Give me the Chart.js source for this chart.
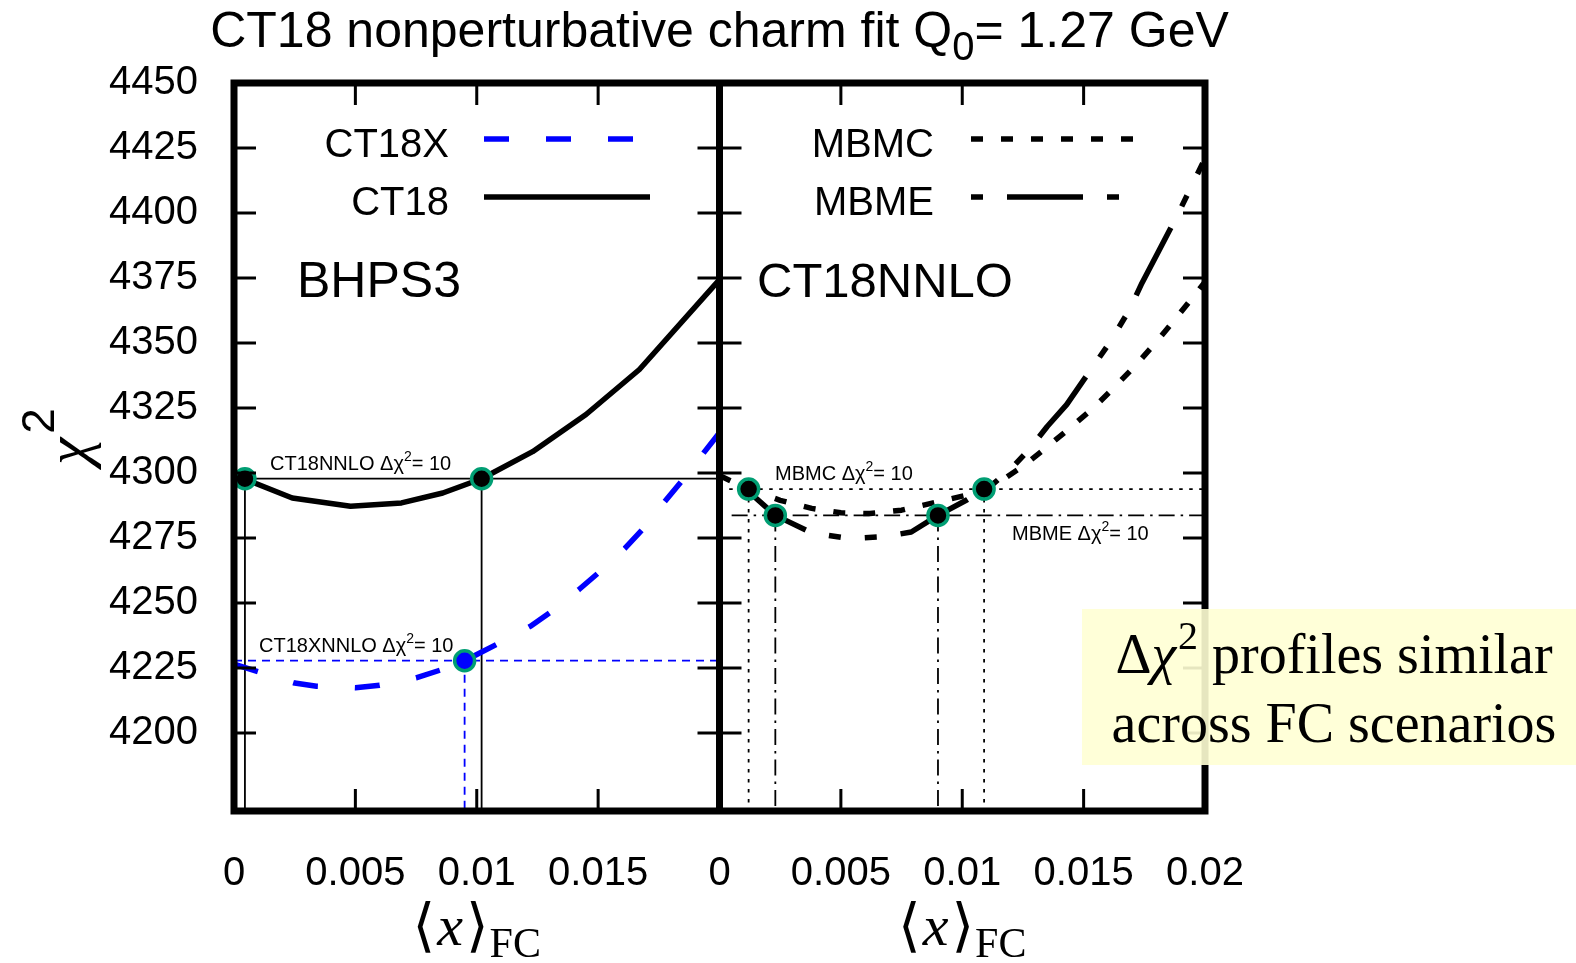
<!DOCTYPE html>
<html>
<head>
<meta charset="utf-8">
<title>CT18 nonperturbative charm fit</title>
<script src="https://cdn.jsdelivr.net/npm/chart.js@4.4.1/dist/chart.umd.min.js"></script>
<style>
    html, body { margin: 0; padding: 0; background: #fff; }
    canvas { display: block; }
</style>
</head>
<body>
<canvas id="chi2Chart" width="1576" height="963"></canvas>
<script>
/* ========================================
   CT18 nonperturbative charm fit - chi2 profiles
   ======================================== */

// ---------- axes ----------
// both panels share one x scale; the right panel is shifted by PANEL_SHIFT
const PANEL_SHIFT = 0.02;
const X_MIN = 0, X_MAX = 0.04;
const Y_MIN = 4170, Y_MAX = 4450;
const X_TICKS = [0, 0.005, 0.01, 0.015, 0.02, 0.025, 0.03, 0.035, 0.04];
const X_TICK_LABELS = ['0', '0.005', '0.01', '0.015', '0', '0.005', '0.01', '0.015', '0.02'];
const Y_TICKS = [4200, 4225, 4250, 4275, 4300, 4325, 4350, 4375, 4400, 4425, 4450];

// ---------- left panel (BHPS3) ----------
const CT18_X    = [0, 0.0024, 0.0048, 0.0069, 0.0086, 0.0102, 0.0123, 0.0145, 0.0167, 0.02];
const CT18_CHI2 = [4299.3, 4290.4, 4287.2, 4288.5, 4292.3, 4297.8, 4308.2, 4322.5, 4339.8, 4374.4];

const CT18X_X    = [0, 0.0025, 0.0034, 0.005, 0.006, 0.0075, 0.0085, 0.0095, 0.0108, 0.0122,
                    0.013, 0.0142, 0.015, 0.0161, 0.0168, 0.0177, 0.0185, 0.0193, 0.02];
const CT18X_CHI2 = [4226.5, 4219.2, 4218.0, 4217.4, 4218.4, 4221.2, 4224.2, 4227.8, 4234.0, 4241.0,
                    4246.2, 4255.1, 4261.5, 4271.0, 4278.0, 4288.5, 4297.5, 4307.2, 4315.5];

// ---------- right panel (CT18NNLO) ----------
const MBMC_X    = [0, 0.0012, 0.0025, 0.0038, 0.005, 0.0062, 0.0075, 0.0089, 0.0101, 0.0109,
                   0.0117, 0.0125, 0.0134, 0.0144, 0.0154, 0.0163, 0.0172, 0.018, 0.0188, 0.0196, 0.02];
const MBMC_CHI2 = [4299.0, 4293.8, 4289.5, 4286.4, 4284.7, 4284.4, 4285.7, 4288.7, 4291.3, 4293.8,
                   4297.6, 4302.6, 4309.3, 4317.0, 4325.0, 4333.3, 4342.0, 4350.5, 4359.5, 4368.8, 4373.5];

const MBME_X    = [0.001, 0.0023, 0.0038, 0.005, 0.0058, 0.0068, 0.0079, 0.009, 0.0102, 0.0113, 0.0121,
                   0.0128, 0.0135, 0.0143, 0.0153, 0.0161, 0.0169, 0.0174, 0.0181, 0.0188, 0.0194, 0.02];
const MBME_CHI2 = [4294.5, 4283.7, 4277.0, 4275.3, 4275.0, 4275.5, 4277.3, 4283.7, 4289.7, 4296.0, 4302.5,
                   4309.5, 4317.9, 4326.3, 4339.8, 4350.5, 4363.0, 4373.0, 4385.5, 4398.0, 4409.4, 4421.0];

// ---------- delta chi2 = 10 levels and crossings ----------
const CT18_LEVEL = 4297.8,  CT18_CROSS = [0.00045, 0.0102],  CT18_HSTART = 0.00045;
const CT18X_LEVEL = 4227.8, CT18X_CROSS = [0.0095],          CT18X_HSTART = 0;
const MBMC_LEVEL = 4293.8,  MBMC_CROSS = [0.0012, 0.0109],   MBMC_HSTART = 0.0004;
const MBME_LEVEL = 4283.7,  MBME_CROSS = [0.0023, 0.009],    MBME_HSTART = 0.0005;

// ---------- styles ----------
const SANS = "'Liberation Sans', Arial, Helvetica, sans-serif";
const SERIF = "'Liberation Serif', 'DejaVu Serif', 'DejaVu Sans', serif";
const BLUE = '#0000ff';
const TEAL = '#009e73';
const DASH_CT18X = [25, 37];
const DASH_MBMC = [12, 18];
const DASH_MBME = [12, 24, 76, 24, 12, 24];

const pts = (xs, ys, dx = 0) => xs.map((x, i) => ({ x: x + dx, y: ys[i] }));

function curve(xs, ys, dx, color, dash, dashOffset = 0) {
    return {
        data: pts(xs, ys, dx),
        borderColor: color,
        borderWidth: 5.5,
        borderDash: dash,
        borderDashOffset: dashOffset,
        borderCapStyle: 'butt',
        borderJoinStyle: 'round',
        pointRadius: 0,
        tension: 0,
        fill: false,
        order: 2,
    };
}

function guide(points, color, dash) {
    return {
        data: points,
        borderColor: color,
        borderWidth: 1.8,
        borderDash: dash,
        pointRadius: 0,
        tension: 0,
        fill: false,
        order: 3,
    };
}

// horizontal line to the panel edge plus a vertical line per crossing
function guides(level, cross, hStart, dx, color, dash) {
    const list = [guide([{ x: hStart + dx, y: level }, { x: PANEL_SHIFT + dx, y: level }], color, dash)];
    cross.forEach(c => {
        list.push(guide([{ x: c + dx, y: level }, { x: c + dx, y: Y_MIN }], color, dash));
    });
    return list;
}

function markers(cross, level, dx, inner) {
    return {
        data: cross.map(c => ({ x: c + dx, y: level })),
        showLine: false,
        pointRadius: 10,
        pointBorderWidth: 3.5,
        pointBackgroundColor: inner,
        pointBorderColor: TEAL,
        clip: false,
        order: 1,
    };
}

// ---------- text helpers ----------
function richWidth(ctx, parts) {
    let w = 0;
    parts.forEach(p => { ctx.font = p.font; w += ctx.measureText(p.text).width + (p.dx || 0); });
    return w;
}

function drawRich(ctx, parts, x, y) {
    let cx = x;
    parts.forEach(p => {
        ctx.font = p.font;
        cx += (p.dx || 0);
        ctx.fillText(p.text, cx, y + (p.dy || 0));
        cx += ctx.measureText(p.text).width;
    });
}

function deltaLabel(name) {
    return [
        { text: name + ' \u0394\u03c7', font: '20px ' + SANS },
        { text: '2', font: '14px ' + SANS, dy: -9 },
        { text: '= 10', font: '20px ' + SANS },
    ];
}

function legendSample(ctx, x0, x1, y, color, dash) {
    ctx.save();
    ctx.strokeStyle = color;
    ctx.lineWidth = 5.5;
    ctx.lineCap = 'butt';
    ctx.setLineDash(dash);
    ctx.beginPath();
    ctx.moveTo(x0, y);
    ctx.lineTo(x1, y);
    ctx.stroke();
    ctx.restore();
}

// ---------- frame, ticks and annotations ----------
const decorPlugin = {
    id: 'decor',
    afterDraw(chart) {
        const { ctx, chartArea: a, scales: { x, y } } = chart;
        const xm = x.getPixelForValue(PANEL_SHIFT);
        const TICK = 22;
        ctx.save();
        ctx.strokeStyle = '#000';
        ctx.fillStyle = '#000';
        ctx.setLineDash([]);

        // inward ticks
        ctx.lineWidth = 3;
        Y_TICKS.forEach(v => {
            const py = y.getPixelForValue(v);
            [[a.left, 1], [xm, -1], [xm, 1], [a.right, -1]].forEach(([px, dir]) => {
                ctx.beginPath();
                ctx.moveTo(px, py);
                ctx.lineTo(px + dir * TICK, py);
                ctx.stroke();
            });
        });
        X_TICKS.forEach(v => {
            if (v === X_MIN || v === PANEL_SHIFT || v === X_MAX) return;
            const px = x.getPixelForValue(v);
            ctx.beginPath();
            ctx.moveTo(px, a.top);
            ctx.lineTo(px, a.top + TICK);
            ctx.moveTo(px, a.bottom);
            ctx.lineTo(px, a.bottom - TICK);
            ctx.stroke();
        });

        // frame and panel divider
        ctx.lineWidth = 7;
        ctx.strokeRect(a.left, a.top, a.right - a.left, a.bottom - a.top);
        ctx.beginPath();
        ctx.moveTo(xm, a.top);
        ctx.lineTo(xm, a.bottom);
        ctx.stroke();

        // title
        ctx.textBaseline = 'alphabetic';
        ctx.textAlign = 'left';
        const title = [
            { text: 'CT18 nonperturbative charm fit Q', font: '50px ' + SANS },
            { text: '0', font: '40px ' + SANS, dy: 13 },
            { text: '= 1.27 GeV', font: '50px ' + SANS },
        ];
        drawRich(ctx, title, (a.left + a.right) / 2 - richWidth(ctx, title) / 2, 47);

        // y axis title
        ctx.save();
        ctx.translate(88, 465);
        ctx.rotate(-Math.PI / 2);
        drawRich(ctx, [
            { text: '\u03c7', font: 'italic 62px ' + SERIF },
            { text: '2', font: '46px ' + SANS, dy: -34, dx: 4 },
        ], 0, 0);
        ctx.restore();

        // x axis titles
        const xTitle = [
            { text: '\u27e8', font: '58px ' + SERIF },
            { text: 'x', font: 'italic 58px ' + SERIF, dx: 2 },
            { text: '\u27e9', font: '58px ' + SERIF, dx: 3 },
            { text: 'FC', font: '42px ' + SERIF, dy: 12, dx: 1 },
        ];
        const xtw = richWidth(ctx, xTitle);
        drawRich(ctx, xTitle, (a.left + xm) / 2 - xtw / 2, 945);
        drawRich(ctx, xTitle, (xm + a.right) / 2 - xtw / 2, 945);

        // legends
        ctx.font = '40px ' + SANS;
        ctx.textAlign = 'right';
        ctx.fillText('CT18X', 449, 157);
        ctx.fillText('CT18', 449, 215);
        ctx.fillText('MBMC', 934, 157);
        ctx.fillText('MBME', 934, 215);
        legendSample(ctx, 484, 634, 139, BLUE, DASH_CT18X);
        legendSample(ctx, 484, 650, 197, '#000', []);
        legendSample(ctx, 971, 1136, 139, '#000', DASH_MBMC);
        legendSample(ctx, 971, 1120, 197, '#000', DASH_MBME);

        // panel labels
        ctx.textAlign = 'left';
        ctx.font = '50px ' + SANS;
        ctx.fillText('BHPS3', 297, 297);
        ctx.font = '49px ' + SANS;
        ctx.fillText('CT18NNLO', 757, 297);

        // delta chi2 labels
        drawRich(ctx, deltaLabel('CT18NNLO'), 270, 470);
        drawRich(ctx, deltaLabel('CT18XNNLO'), 259, 652);
        drawRich(ctx, deltaLabel('MBMC'), 775, 480);
        drawRich(ctx, deltaLabel('MBME'), 1012, 540);

        // note box
        ctx.fillStyle = 'rgba(255, 255, 212, 0.9)';
        ctx.fillRect(1082, 609, 1576 - 1082, 156);
        ctx.fillStyle = '#000';
        const line1 = [
            { text: '\u0394', font: '56px ' + SERIF },
            { text: '\u03c7', font: 'italic 56px ' + SERIF },
            { text: '2', font: '40px ' + SERIF, dy: -24, dx: 2 },
            { text: ' profiles similar', font: '56px ' + SERIF },
        ];
        const line2 = [{ text: 'across FC scenarios', font: '56px ' + SERIF }];
        drawRich(ctx, line1, 1334 - richWidth(ctx, line1) / 2, 673);
        drawRich(ctx, line2, 1334 - richWidth(ctx, line2) / 2, 742);

        ctx.restore();
    }
};

// ---------- chart ----------
function initChi2Chart() {
    const ctx = document.getElementById('chi2Chart').getContext('2d');

    const datasets = [
        markers(CT18_CROSS, CT18_LEVEL, 0, '#000'),
        markers(CT18X_CROSS, CT18X_LEVEL, 0, BLUE),
        markers(MBMC_CROSS, MBMC_LEVEL, PANEL_SHIFT, '#000'),
        markers(MBME_CROSS, MBME_LEVEL, PANEL_SHIFT, '#000'),
        curve(CT18_X, CT18_CHI2, 0, '#000', []),
        curve(CT18X_X, CT18X_CHI2, 0, BLUE, DASH_CT18X),
        curve(MBMC_X, MBMC_CHI2, PANEL_SHIFT, '#000', DASH_MBMC),
        curve(MBME_X, MBME_CHI2, PANEL_SHIFT, '#000', DASH_MBME, 36),
        ...guides(CT18_LEVEL, CT18_CROSS, CT18_HSTART, 0, '#000', []),
        ...guides(CT18X_LEVEL, CT18X_CROSS, CT18X_HSTART, 0, BLUE, [8, 6]),
        ...guides(MBMC_LEVEL, MBMC_CROSS, MBMC_HSTART, PANEL_SHIFT, '#000', [3.5, 6.5]),
        ...guides(MBME_LEVEL, MBME_CROSS, MBME_HSTART, PANEL_SHIFT, '#000', [16, 6, 2.5, 6]),
    ];

    new Chart(ctx, {
        type: 'line',
        data: { datasets },
        options: {
            responsive: false,
            animation: false,
            events: [],
            layout: { padding: { top: 83, right: 371, bottom: 0, left: 0 } },
            plugins: {
                legend: { display: false },
                title: { display: false },
                tooltip: { enabled: false },
            },
            scales: {
                x: {
                    type: 'linear',
                    min: X_MIN,
                    max: X_MAX,
                    afterBuildTicks: s => { s.ticks = X_TICKS.map(v => ({ value: v })); },
                    afterFit: s => { s.height = 152; },
                    grid: { display: false, drawTicks: false, tickLength: 0 },
                    border: { display: false },
                    ticks: {
                        autoSkip: false,
                        maxRotation: 0,
                        padding: 39,
                        color: '#000',
                        font: { size: 40, family: SANS },
                        callback: (v, i) => X_TICK_LABELS[i],
                    },
                },
                y: {
                    type: 'linear',
                    min: Y_MIN,
                    max: Y_MAX,
                    afterBuildTicks: s => { s.ticks = Y_TICKS.map(v => ({ value: v })); },
                    afterFit: s => { s.width = 234; },
                    grid: { display: false, drawTicks: false, tickLength: 0 },
                    border: { display: false },
                    ticks: {
                        padding: 36,
                        color: '#000',
                        font: { size: 40, family: SANS },
                        callback: v => String(v),
                    },
                },
            },
        },
        plugins: [decorPlugin],
    });
}

document.addEventListener('DOMContentLoaded', initChi2Chart);
</script>
</body>
</html>
